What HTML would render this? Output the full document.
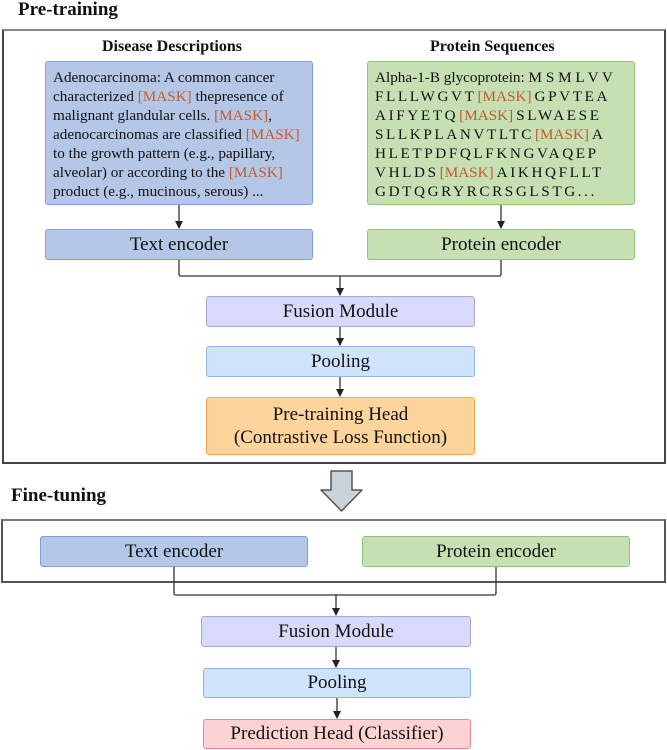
<!DOCTYPE html>
<html><head><meta charset="utf-8"><style>
body{margin:0;width:667px;height:750px;background:#fff;position:relative;overflow:hidden;font-family:"Liberation Serif",serif;color:#111}
.a{position:absolute;box-sizing:border-box}
.box{position:absolute;box-sizing:border-box;border-radius:3px;display:flex;align-items:center;justify-content:center;text-align:center;font-size:19px;border:1.5px solid}
.blue{background:#b4c7e7;border-color:#7e9fd8}
.green{background:#c6e0b4;border-color:#92c571}
.fus{background:#d9d9fa;border-color:#a7a7e6}
.pool{background:#cfe3fb;border-color:#8cb6ec}
.org{background:#fdd59c;border-color:#f0a64c}
.pink{background:#fdd2d4;border-color:#e48b90}
.m{color:#c65b2a;letter-spacing:0;margin:0 3px 0 1px}
.txt{font-size:15.2px;line-height:19px;padding:6px 0 0 7px;text-align:left;display:block;white-space:nowrap}
.prot{letter-spacing:2.6px}
h{position:absolute;font-weight:bold;line-height:1}
</style></head><body>
<h style="left:18px;top:0px;font-size:19px">Pre-training</h>
<div class="a" style="left:2px;top:29px;width:664px;height:435px;border:2px solid #444;border-top-color:#888"></div>
<h style="left:102px;top:39px;font-size:16px">Disease Descriptions</h>
<h style="left:430px;top:39px;font-size:16px">Protein Sequences</h>
<div class="box blue txt" style="left:45px;top:61px;width:268px;height:144px">Adenocarcinoma: A common cancer<br>characterized <span class="m" style="margin:0">[MASK]</span> thepresence of<br>malignant glandular cells. <span class="m" style="margin:0">[MASK]</span>,<br>adenocarcinomas are classified <span class="m" style="margin:0">[MASK]</span><br>to the growth pattern (e.g., papillary,<br>alveolar) or according to the <span class="m" style="margin:0">[MASK]</span><br>product (e.g., mucinous, serous) ...</div>
<div class="box green txt" style="left:367px;top:61px;width:268px;height:144px">Alpha-1-B glycoprotein: M S M L V V<br><span class="prot">FLLLWGVT<span class="m">[MASK]</span>GPVTEA<br>AIFYETQ<span class="m">[MASK]</span>SLWAESE<br>SLLKPLANVTLTC<span class="m">[MASK]</span>A<br>HLETPDFQLFKNGVAQEP<br>VHLDS<span class="m">[MASK]</span>AIKHQFLLT<br>GDTQGRYRCRSGLSTG...</span></div>
<div class="box blue" style="left:45px;top:229px;width:268px;height:31px">Text encoder</div>
<div class="box green" style="left:367px;top:229px;width:268px;height:31px">Protein encoder</div>
<div class="box fus" style="left:206px;top:296px;width:269px;height:31px">Fusion Module</div>
<div class="box pool" style="left:206px;top:346px;width:269px;height:31px">Pooling</div>
<div class="box org" style="left:206px;top:397px;width:269px;height:58px;line-height:23px">Pre-training Head<br>(Contrastive Loss Function)</div>
<h style="left:11px;top:486px;font-size:19px">Fine-tuning</h>
<div class="a" style="left:1px;top:519px;width:665px;height:64px;border:2px solid #555;border-top-color:#777"></div>
<div class="box blue" style="left:40px;top:536px;width:268px;height:31px">Text encoder</div>
<div class="box green" style="left:362px;top:536px;width:268px;height:31px">Protein encoder</div>
<div class="box fus" style="left:201px;top:616px;width:270px;height:31px">Fusion Module</div>
<div class="box pool" style="left:203px;top:668px;width:268px;height:30px">Pooling</div>
<div class="box pink" style="left:203px;top:719px;width:268px;height:30px">Prediction Head (Classifier)</div>
<svg class="a" style="left:0;top:0" width="667" height="750">
<defs><marker id="ar" markerWidth="8" markerHeight="8" refX="7" refY="4" orient="auto" markerUnits="userSpaceOnUse"><path d="M0,0L8,4L0,8z" fill="#222"/></marker></defs>
<g stroke="#333" stroke-width="1.3" fill="none">
<line x1="179" y1="205" x2="179" y2="228" marker-end="url(#ar)"/>
<line x1="501" y1="205" x2="501" y2="228" marker-end="url(#ar)"/>
<path d="M179 260V274q0 2 2 2H499q2 0 2-2V260"/>
<line x1="340" y1="276" x2="340" y2="295" marker-end="url(#ar)"/>
<line x1="340" y1="327" x2="340" y2="345" marker-end="url(#ar)"/>
<line x1="340" y1="377" x2="340" y2="396" marker-end="url(#ar)"/>
<path d="M174 567V593q0 2 2 2H494q2 0 2-2V567"/>
<line x1="336" y1="595" x2="336" y2="615" marker-end="url(#ar)"/>
<line x1="336" y1="647" x2="336" y2="667" marker-end="url(#ar)"/>
<line x1="337" y1="698" x2="337" y2="718" marker-end="url(#ar)"/>
</g>
<path d="M331 471H352V490H362L341.5 511L321 490H331Z" fill="#ccd2da" stroke="#555" stroke-width="1.5" stroke-linejoin="round"/>
</svg>
</body></html>
